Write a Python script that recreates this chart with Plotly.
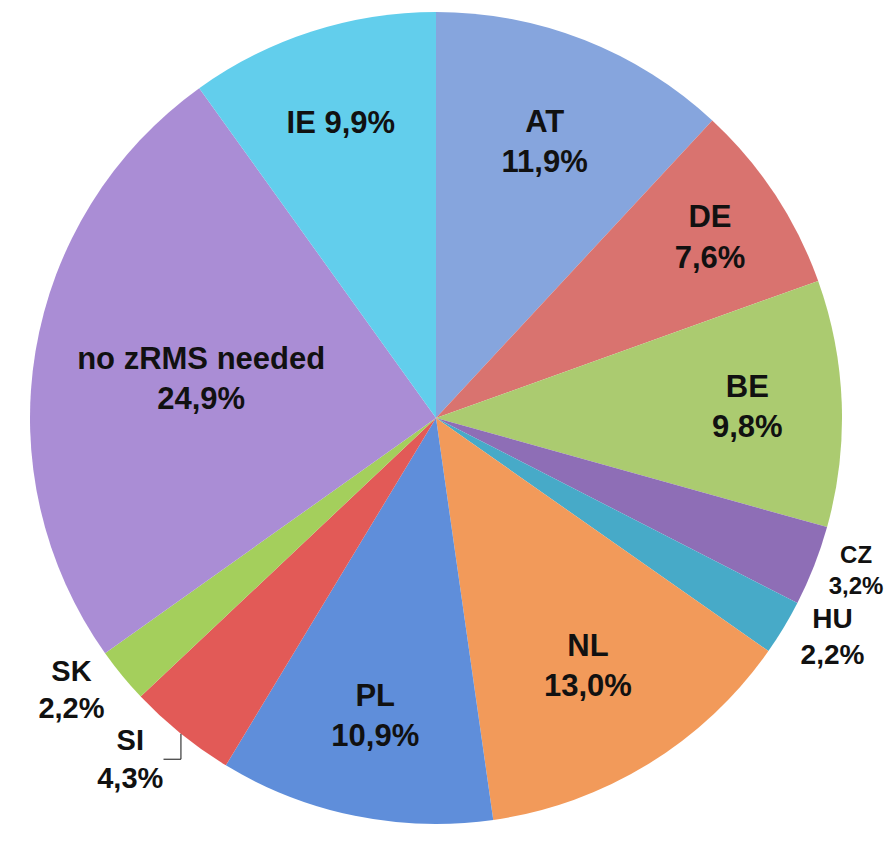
import plotly.graph_objects as go

labels = ["AT", "DE", "BE", "CZ", "HU", "NL", "PL", "SI", "SK", "no zRMS needed", "IE"]
values = [11.9, 7.6, 9.8, 3.2, 2.2, 13.0, 10.9, 4.3, 2.2, 24.9, 9.9]
colors = ["#86A5DD", "#D9736F", "#ABCB70", "#8E6EB6", "#47AAC8", "#F29A5A",
          "#5F8EDA", "#E25A57", "#A4CF5C", "#AA8DD5", "#62CEEC"]
positions = ["inside", "inside", "inside", "outside", "outside", "inside",
             "inside", "outside", "outside", "inside", "inside"]
separators = ["<br>"] * 10 + [" "]
sizes = [31, 31, 31, 24, 28, 31, 31, 29, 29, 31, 31]

templates = ["<b>%{label}" + sep + "%{value:.1f}%</b>" for sep in separators]

font = dict(family="Arial, Liberation Sans", size=sizes, color="#111111")

fig = go.Figure(go.Pie(
    labels=labels,
    values=values,
    sort=False,
    direction="clockwise",
    rotation=0,
    marker=dict(colors=colors, line=dict(width=0)),
    texttemplate=templates,
    textposition=positions,
    insidetextorientation="horizontal",
    textfont=font,
    outsidetextfont=font,
    insidetextfont=font,
    automargin=False,
    showlegend=False,
    hoverinfo="label+value",
    domain=dict(x=[0.0246, 0.9329], y=[0.0332, 0.9953]),
))

fig.update_layout(
    width=894, height=844,
    margin=dict(l=0, r=0, t=0, b=0),
    paper_bgcolor="white",
    plot_bgcolor="white",
    separators=",.",
    showlegend=False,
)

fig.write_html("out.html")
